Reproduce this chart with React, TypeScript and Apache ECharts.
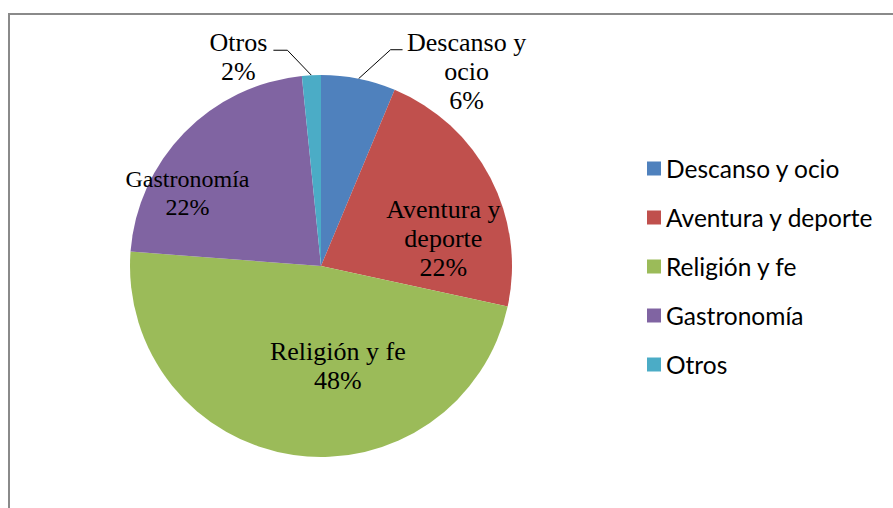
import React, { useEffect, useRef } from "react";
import * as echarts from "echarts";

const categories = ["Descanso y ocio", "Aventura y deporte", "Religión y fe", "Gastronomía", "Otros"];
const values = [6.3, 22.1, 47.8, 22.2, 1.6];
const labelNames = ["Descanso y\nocio", "Aventura y\ndeporte", "Religión y fe", "Gastronomía", "Otros"];
const colors = ["#4F81BD", "#C0504D", "#9BBB59", "#8064A2", "#4BACC6"];

const CX = 321;
const CY = 266;
const R = 191;

export default function App() {
  const ref = useRef<HTMLDivElement>(null);
  useEffect(() => {
    if (!ref.current) return;
    const chart = echarts.init(ref.current, null, { renderer: "svg" });
    const total = values.reduce((a, b) => a + b, 0);
    const mids: number[] = [];
    let acc = 0;
    values.forEach((v) => {
      mids.push(((acc + v / 2) / total) * Math.PI * 2);
      acc += v;
    });
    const edge = (i: number) => [CX + R * Math.sin(mids[i]), CY - R * Math.cos(mids[i])];

    const insideShift: Record<number, [number, number]> = {
      1: [35, 18],
      2: [31, 3],
      3: [-63, -4],
    };

    chart.setOption({
      animation: false,
      color: colors,
      graphic: [
        {
          type: "rect",
          shape: { x: 9, y: 14, width: 900, height: 520 },
          style: { fill: "none", stroke: "#8a8a8a", lineWidth: 2 },
          silent: true,
        },
      ],
      legend: {
        orient: "vertical",
        left: 647,
        top: 156,
        padding: 0,
        icon: "rect",
        itemWidth: 14,
        itemHeight: 14,
        itemGap: 24,
        textStyle: { fontFamily: "Lato", fontSize: 24.5, color: "#000", lineHeight: 24 },
        data: categories,
      },
      series: [
        {
          type: "pie",
          center: [CX, CY],
          radius: R,
          startAngle: 90,
          clockwise: true,
          avoidLabelOverlap: false,
          itemStyle: { borderWidth: 0 },
          label: {
            show: true,
            position: "inside",
            fontFamily: "Liberation Serif",
            fontSize: 26,
            lineHeight: 29,
            color: "#000",
            align: "center",
            formatter: (p: any) => labelNames[p.dataIndex] + "\n" + Math.round(p.percent) + "%",
          },
          labelLine: { show: true, lineStyle: { color: "#000", width: 1 } },
          labelLayout: (p: any) => {
            const i = p.dataIndex;
            if (i === 0) {
              const e = edge(0);
              return {
                x: e[0] + 108,
                y: e[1] - 7,
                align: "center",
                verticalAlign: "middle",
                labelLinePoints: [e, [e[0] + 32, e[1] - 29], [e[0] + 44, e[1] - 29]],
              };
            }
            if (i === 4) {
              const e = edge(4);
              return {
                x: e[0] - 73,
                y: e[1] - 18,
                align: "center",
                verticalAlign: "middle",
                labelLinePoints: [e, [e[0] - 24, e[1] - 25], [e[0] - 38, e[1] - 25]],
              };
            }
            const s = insideShift[i];
            return { dx: s[0], dy: s[1] };
          },
          data: categories.map((c, i) => ({
            name: c,
            value: values[i],
            label:
              i === 0 || i === 4
                ? { position: "outside" }
                : i === 3
                ? { fontSize: 24, lineHeight: 28 }
                : {},
            labelLine: { show: i === 0 || i === 4 },
          })),
        },
      ],
    });
    return () => chart.dispose();
  }, []);
  return (
    <div
      ref={ref}
      style={{ position: "fixed", left: 0, top: 0, width: 893, height: 508, background: "#fff" }}
    />
  );
}
